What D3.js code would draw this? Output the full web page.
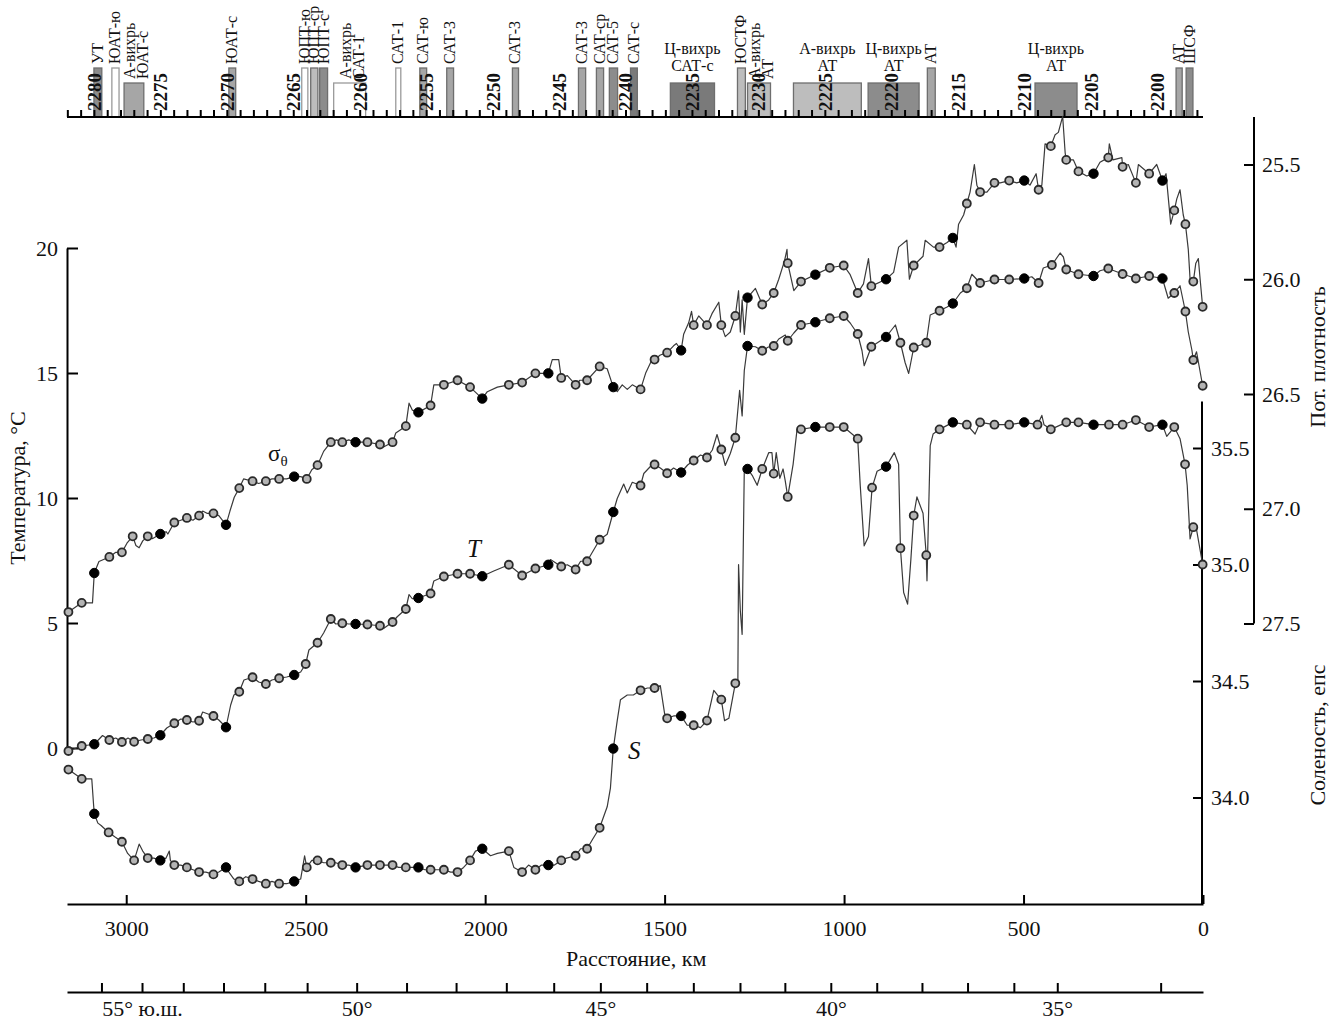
<!DOCTYPE html>
<html>
<head>
<meta charset="utf-8">
<script src="https://cdn.jsdelivr.net/npm/d3@7"></script>
<style>
  body { margin: 0; background: #fff; }
</style>
</head>
<body>
<svg id="section"></svg>
<script>
// values
// distance along the track is in km (3165 at the left edge, 0 at the right)
// mark: 0 = plain line point, 1 = open station circle, 2 = black station dot

const sigmaKm = [3161,3124,3094,3089,3076,3047,3029,3012,2998,2982,2973,2964,2954,2940,2926,2905,2889,2884,2866,2848,
  2831,2814,2797,2787,2775,2757,2742,2722,2711,2699,2685,2673,2648,2631,2611,2594,2574,2553,2532,2514,
  2497,2483,2467,2450,2430,2414,2398,2380,2361,2328,2293,2282,2258,2249,2221,2212,2203,2186,2152,2143,
  2115,2077,2042,2008,1994,1966,1934,1897,1860,1824,1813,1795,1788,1771,1748,1736,1716,1681,1660,1643,
  1632,1618,1604,1590,1567,1553,1535,1528,1512,1493,1475,1467,1454,1447,1433,1425,1419,1405,1382,1368,
  1349,1342,1331,1317,1303,1294,1289,1284,1278,1269,1247,1228,1210,1196,1182,1166,1159,1157,1140,1120,
  1080,1040,1001,983,962,946,932,924,883,862,848,825,818,806,780,774,751,734,713,697,
  688,681,667,658,649,637,630,621,602,581,565,540,519,498,482,465,458,449,440,424,
  412,403,391,384,381,361,347,324,305,287,264,261,251,226,224,208,187,180,150,129,
  113,103,94,90,80,73,64,55,49,41,36,27,20,13,8,1];
const sigmaVal = [27.45,27.41,27.41,27.28,27.23,27.21,27.19,27.19,27.15,27.12,27.16,27.17,27.14,27.12,27.13,27.11,27.10,27.11,27.06,27.05,
  27.04,27.05,27.03,27.01,27.02,27.02,27.03,27.07,27.01,26.95,26.91,26.87,26.88,26.89,26.88,26.87,26.87,26.87,26.86,26.86,
  26.87,26.83,26.81,26.75,26.71,26.70,26.71,26.70,26.71,26.71,26.72,26.73,26.71,26.67,26.64,26.54,26.57,26.58,26.55,26.46,
  26.46,26.44,26.47,26.52,26.49,26.47,26.46,26.45,26.41,26.41,26.35,26.35,26.43,26.42,26.46,26.44,26.44,26.38,26.39,26.47,
  26.49,26.46,26.48,26.46,26.48,26.41,26.35,26.35,26.33,26.32,26.29,26.28,26.31,26.24,26.19,26.14,26.20,26.16,26.20,26.15,
  26.10,26.20,26.25,26.23,26.16,26.05,26.23,26.09,26.24,26.08,26.04,26.11,26.09,26.06,26.00,25.92,25.87,25.93,26.05,26.01,
  25.98,25.95,25.94,25.98,26.06,26.02,25.91,26.03,26.00,25.97,25.86,25.83,26.00,25.94,25.90,25.83,25.86,25.86,25.84,25.82,
  25.86,25.76,25.72,25.67,25.62,25.50,25.59,25.62,25.62,25.58,25.58,25.57,25.58,25.57,25.59,25.54,25.61,25.59,25.41,25.42,
  25.37,25.36,25.29,25.45,25.48,25.48,25.53,25.55,25.54,25.49,25.47,25.41,25.48,25.47,25.51,25.50,25.58,25.50,25.54,25.50,
  25.57,25.54,25.69,25.76,25.70,25.65,25.61,25.72,25.76,25.87,26.00,26.01,25.93,25.91,26.00,26.12];
const sigmaMark = [1,1,0,2,0,1,0,1,0,1, 0,0,0,1,0,2,0,0,1,0, 1,0,1,0,0,1,0,2,0,0, 1,0,1,0,1,0,1,0,2,0,
  1,0,1,0,1,0,1,0,2,1, 1,0,1,0,1,0,0,2,1,0, 1,1,1,2,0,0,1,1,1,2, 0,0,1,0,1,0,1,1,0,2,
  0,0,0,0,1,0,0,1,0,1, 0,0,2,0,0,0,1,0,1,0, 0,1,0,0,1,0,0,0,0,2, 0,1,0,1,0,0,0,1,0,1,
  2,1,1,0,1,0,0,1,2,0, 0,0,0,1,0,0,0,1,0,2, 0,0,0,1,0,0,0,1,0,1, 0,1,0,2,0,0,1,0,0,1,
  0,0,0,0,1,0,1,0,2,0, 1,0,0,0,1,0,1,0,1,0, 2,0,0,0,1,0,0,0,1,0, 0,1,0,0,0,1];

const tempKm = [3161,3124,3089,3066,3047,3029,3012,2995,2978,2959,2940,2923,2905,2887,2866,2848,2831,2814,2797,2787,
  2757,2742,2722,2709,2700,2685,2672,2648,2631,2611,2594,2574,2553,2532,2514,2500,2491,2467,2450,2430,
  2416,2398,2380,2361,2328,2293,2282,2258,2245,2221,2212,2203,2186,2152,2143,2115,2077,2042,2008,1976,
  1934,1897,1860,1824,1818,1788,1771,1748,1734,1716,1681,1660,1643,1632,1614,1604,1590,1567,1558,1539,
  1528,1512,1493,1475,1454,1436,1419,1400,1382,1367,1354,1342,1331,1317,1303,1291,1284,1278,1269,1247,
  1228,1211,1196,1182,1164,1157,1140,1120,1080,1040,1001,983,962,950,944,924,883,857,843,830,
  820,806,771,760,734,713,697,676,658,644,621,581,540,498,477,458,445,421,398,389,
  381,347,305,287,264,224,187,150,113,97,80,64,49,41,31,27,18,1];
const tempVal = [-0.12,0.08,0.15,0.50,0.32,0.40,0.24,0.40,0.25,0.32,0.36,0.40,0.51,0.80,0.99,1.16,1.12,1.04,1.09,1.44,
  1.28,1.12,0.83,1.72,2.12,2.25,2.72,2.83,2.64,2.56,2.72,2.79,2.84,2.92,3.04,3.36,3.92,4.21,4.60,5.16,
  4.96,4.99,4.96,4.96,4.94,4.89,4.79,5.04,5.25,5.56,6.14,5.97,6.00,6.18,6.68,6.86,6.97,6.97,6.87,7.08,
  7.33,6.90,7.18,7.33,7.54,7.26,7.33,7.14,7.47,7.47,8.33,8.55,9.44,9.98,10.56,10.20,10.63,10.50,10.98,11.27,
  11.34,11.20,10.99,11.20,11.02,11.32,11.50,11.72,11.62,11.92,12.54,11.94,11.30,11.78,12.41,14.31,13.28,15.10,16.08,16.05,
  15.89,16.04,16.08,16.36,16.52,16.29,16.60,16.92,17.03,17.19,17.28,17.00,16.56,15.89,15.29,16.05,16.44,16.92,16.21,15.42,
  14.98,16.02,16.21,17.32,17.49,17.64,17.78,18.20,18.39,18.95,18.60,18.74,18.74,18.78,18.85,18.60,19.20,19.32,19.80,19.64,
  19.14,18.95,18.88,19.09,19.18,18.96,18.78,18.88,18.78,17.99,18.20,18.49,17.46,16.64,15.92,15.52,15.85,14.49];
const tempMark = [1,1,2,0,1,0,1,0,1,0, 1,0,2,0,1,0,1,0,1,0, 1,0,2,0,0,1,0,1,0,1, 0,1,0,2,0,1,0,1,0,1,
  0,1,0,2,1,1,0,1,0,1, 0,0,2,1,0,1,1,1,2,0, 1,1,1,2,0,1,0,1,0,1, 1,0,2,0,0,0,0,1,0,0,
  1,0,1,0,2,0,1,0,1,0, 0,1,0,0,1,0,0,0,2,0, 1,0,1,0,0,1,0,1,2,1, 1,0,1,0,0,1,2,0,1,0,
  0,1,1,0,1,0,2,0,1,0, 1,1,1,2,0,1,0,1,0,0, 1,1,2,0,1,1,1,1,2,0, 1,0,1,0,0,1,0,1];

const salKm = [3161,3124,3096,3091,3089,3079,3070,3049,3031,3012,2996,2978,2970,2964,2954,2940,2923,2905,2889,2880,
  2877,2866,2848,2831,2814,2797,2778,2757,2742,2722,2714,2700,2685,2667,2648,2631,2611,2594,2574,2553,
  2532,2514,2503,2497,2483,2467,2450,2430,2416,2398,2380,2361,2328,2293,2277,2258,2241,2221,2205,2186,
  2168,2152,2135,2115,2096,2077,2060,2042,2027,2008,1985,1966,1934,1920,1897,1879,1860,1843,1824,1807,
  1788,1773,1748,1734,1716,1701,1681,1660,1651,1643,1632,1623,1604,1587,1567,1548,1528,1512,1500,1493,
  1475,1454,1437,1419,1400,1382,1363,1353,1342,1333,1321,1303,1296,1294,1289,1284,1278,1269,1255,1242,
  1228,1210,1201,1196,1189,1179,1170,1164,1157,1142,1131,1120,1080,1040,1001,962,955,944,932,922,
  908,883,860,848,843,834,823,814,806,797,780,771,769,760,752,734,697,658,635,621,
  581,540,498,461,449,443,424,381,347,305,262,224,187,150,113,101,80,64,50,44,
  36,27,18,1];
const salVal = [34.12,34.08,34.08,33.97,33.93,33.89,33.88,33.85,33.83,33.81,33.76,33.73,33.77,33.80,33.77,33.74,33.74,33.73,33.74,33.77,
  33.73,33.71,33.71,33.70,33.69,33.68,33.68,33.67,33.68,33.70,33.68,33.65,33.64,33.66,33.65,33.64,33.63,33.64,33.63,33.63,
  33.64,33.65,33.75,33.70,33.73,33.73,33.72,33.72,33.72,33.71,33.71,33.70,33.71,33.71,33.71,33.71,33.70,33.70,33.70,33.70,
  33.69,33.69,33.69,33.69,33.68,33.68,33.70,33.73,33.77,33.78,33.75,33.76,33.77,33.70,33.68,33.71,33.69,33.71,33.71,33.71,
  33.73,33.74,33.75,33.78,33.78,33.82,33.87,33.96,34.04,34.21,34.33,34.42,34.44,34.44,34.46,34.47,34.47,34.48,34.36,34.34,
  34.35,34.35,34.31,34.31,34.30,34.33,34.46,34.44,34.42,34.33,34.34,34.49,34.48,35.00,34.80,34.70,35.41,35.41,35.38,35.34,
  35.41,35.48,35.48,35.39,35.48,35.37,35.41,35.36,35.29,35.43,35.58,35.58,35.59,35.59,35.59,35.54,35.34,35.08,35.12,35.33,
  35.40,35.42,35.48,35.43,35.07,34.88,34.83,35.02,35.21,35.29,35.22,35.04,34.93,35.51,35.56,35.58,35.61,35.60,35.56,35.61,
  35.60,35.60,35.61,35.60,35.64,35.60,35.58,35.61,35.61,35.60,35.60,35.60,35.62,35.59,35.60,35.55,35.59,35.54,35.43,35.34,
  35.11,35.16,35.15,35.00];
const salMark = [1,1,0,0,2,0,0,1,0,1, 0,1,0,0,0,1,0,2,0,0, 0,1,0,1,0,1,0,1,0,2, 0,0,1,0,1,0,1,0,1,0,
  2,0,0,1,0,1,0,1,0,1, 0,2,1,1,0,1,0,1,0,2, 0,1,0,1,0,1,0,1,0,2, 0,0,1,0,1,0,1,0,2,0,
  1,0,1,0,1,0,1,0,0,2, 0,0,0,0,1,0,1,0,0,1, 0,2,0,1,0,1,0,0,1,0, 0,1,0,0,0,0,0,2,0,0,
  1,0,0,1,0,0,0,0,1,0, 0,1,2,1,1,1,0,0,0,1, 0,2,0,0,1,0,0,0,1,0, 0,1,0,0,0,1,2,1,0,1,
  1,1,2,1,0,0,1,1,1,2, 1,1,1,1,2,0,1,0,1,0, 0,1,0,1];

// axis ticks
const distTicks = [3000, 2500, 2000, 1500, 1000, 500, 0];
const tempTicks = [0, 5, 10, 15, 20];
const sigmaTicks = [25.5, 26.0, 26.5, 27.0, 27.5];
const salTicks = [34.0, 34.5, 35.0, 35.5];
const latDeg = [56, 55, 54, 53, 52, 51, 50, 49, 48, 47, 46, 45, 44, 43, 42, 41, 40, 39, 38, 37, 36, 35, 33];
const latKm = [3069, 2956, 2841, 2729, 2614, 2496, 2358, 2219, 2081, 1941, 1809, 1679, 1550, 1420, 1290, 1165, 1037, 909, 783, 656, 527, 406, 118];
const stationLabels = [2280, 2275, 2270, 2265, 2260, 2255, 2250, 2245, 2240, 2235, 2230, 2225, 2220, 2215, 2210, 2205, 2200];

// fronts and eddies crossed by the section (top strip)
const barStartKm = [3090, 3040, 3006, 2714, 2511, 2486, 2461, 2422, 2249, 2182, 2107, 1924, 1740, 1690, 1654, 1595, 1484, 1297, 1269, 1141, 933, 768, 468, 75, 47];
const barEndKm = [3068, 3020, 2951, 2695, 2494, 2466, 2439, 2333, 2235, 2163, 2088, 1907, 1720, 1670, 1631, 1576, 1361, 1275, 1205, 952, 791, 746, 351, 58, 28];
const barName = ["УТ", "ЮАТ-ю", "А-вихрь|ЮАТ-с", "ЮАТ-с", "ЮПТ-ю", "ЮПТ-ср", "ЮПТ-с", "А-вихрь|САТ-1", "САТ-1", "САТ-ю",
  "САТ-3", "САТ-3", "САТ-3", "САТ-ср", "САТ-5", "САТ-с", "Ц-вихрь|САТ-с", "ЮСТФ", "А-вихрь|АТ", "А-вихрь|АТ",
  "Ц-вихрь|АТ", "АТ", "Ц-вихрь|АТ", "АТ", "ШСФ"];
const barKind = ["front", "front", "eddy", "front", "front", "front", "front", "eddy", "front", "front",
  "front", "front", "front", "front", "front", "front", "eddy", "front", "eddy", "eddy",
  "eddy", "front", "eddy", "front", "front"];
const barTone = [3, 0, 2, 2, 0, 1, 3, 0, 0, 2, 2, 2, 2, 2, 3, 4, 4, 1, 1, 1, 3, 2, 3, 2, 3];

// ---------------------------------------------------------------

var serif = "'Liberation Serif', 'Times New Roman', serif";
var w = 1335;
var h = 1027;

var svg = d3.select("#section")
    .attr("width", w)
    .attr("height", h)
    .style("font-family", serif);

var xScale = d3.scaleLinear().domain([3165, 0]).range([67, 1203]);
var tScale = d3.scaleLinear().domain([0, 20]).range([748, 248]);
var sigScale = d3.scaleLinear().domain([25.5, 27.5]).range([164.5, 623.5]);
var salScale = d3.scaleLinear().domain([34.0, 35.5]).range([797.5, 448]);
var stScale = d3.scaleLinear().domain([2280, 2200]).range([xScale(3090), xScale(128)]);

var topAxisY = 117, distAxisY = 904, latAxisY = 992;
var sigAxisX = 1254, salAxisX = 1202;
var tallTop = 68, shortTop = 83;
var tones = ["#ffffff", "#bdbdbd", "#a6a6a6", "#8c8c8c", "#7a7a7a"];

function styleAxis(g, size) {
    g.attr("font-family", serif).attr("font-size", size);
    g.selectAll(".domain").attr("stroke", "#000").attr("stroke-width", 2);
    g.selectAll(".tick line").attr("stroke", "#000").attr("stroke-width", 2);
    g.selectAll(".tick text").attr("fill", "#111");
}

// ---- station strip at the top ----
var strip = svg.append("g");

strip.selectAll("rect")
    .data(barName)
    .join("rect")
    .attr("x", (d, i) => xScale(barStartKm[i]))
    .attr("width", (d, i) => xScale(barEndKm[i]) - xScale(barStartKm[i]))
    .attr("y", (d, i) => barKind[i] === "front" ? tallTop : shortTop)
    .attr("height", (d, i) => topAxisY - (barKind[i] === "front" ? tallTop : shortTop))
    .attr("fill", (d, i) => tones[barTone[i]])
    .attr("stroke", (d, i) => barTone[i] === 0 ? "#9a9a9a" : "#6e6e6e")
    .attr("stroke-width", 1.3);

var barLabels = strip.append("g").attr("font-size", 16).attr("fill", "#111");

barName.forEach(function (name, i) {
    var lines = name.split("|");
    var x0 = xScale(barStartKm[i]);
    var x1 = xScale(barEndKm[i]);
    var cx = (x0 + x1) / 2;
    var top = barKind[i] === "front" ? tallTop : shortTop;
    if (x1 - x0 > 40) {
        // wide eddy boxes get a flat two-line caption
        lines.forEach(function (ln, j) {
            barLabels.append("text")
                .attr("x", cx)
                .attr("y", top - 29 + j * 17)
                .attr("text-anchor", "middle")
                .text(ln);
        });
    } else {
        lines.forEach(function (ln, j) {
            var col = lines.length === 1 ? cx : cx - 4 + j * 13;
            barLabels.append("text")
                .attr("transform", `translate(${col + 5},${top - 4}) rotate(-90)`)
                .text(ln);
        });
    }
});

// station ticks + numbers
svg.append("g")
    .attr("transform", `translate(0,${topAxisY})`)
    .call(d3.axisTop(stScale).tickValues(d3.range(2282, 2196, -1)).tickSizeInner(7).tickSizeOuter(0).tickFormat(""))
    .call(g => g.select(".domain").remove())
    .call(g => styleAxis(g, 14));

svg.append("line")
    .attr("x1", xScale.range()[0]).attr("x2", xScale.range()[1])
    .attr("y1", topAxisY).attr("y2", topAxisY)
    .attr("stroke", "#000").attr("stroke-width", 2);

svg.append("g")
    .selectAll("text")
    .data(stationLabels)
    .join("text")
    .attr("transform", d => `translate(${stScale(d) + 7},${topAxisY - 6}) rotate(-90)`)
    .attr("font-size", 19)
    .attr("font-weight", "bold")
    .attr("fill", "#111")
    .text(d => d);

// ---- axes ----
svg.append("g")
    .attr("transform", `translate(${xScale.range()[0]},0)`)
    .call(d3.axisLeft(tScale).tickValues(tempTicks).tickSizeInner(-11).tickSizeOuter(0).tickPadding(9))
    .call(g => styleAxis(g, 22));

svg.append("g")
    .attr("transform", `translate(0,${distAxisY})`)
    .call(d3.axisBottom(xScale).tickValues(distTicks).tickFormat(d3.format("d")).tickSizeInner(-9).tickSizeOuter(0).tickPadding(16))
    .call(g => styleAxis(g, 22));

svg.append("g")
    .attr("transform", `translate(0,${latAxisY})`)
    .call(d3.axisBottom(xScale).tickValues(latKm).tickSizeInner(-9).tickSizeOuter(0).tickPadding(8)
        .tickFormat((d, i) => {
            var deg = latDeg[i];
            if (deg === 55) return "55° ю.ш.";
            return deg % 5 === 0 ? deg + "°" : "";
        }))
    .call(g => styleAxis(g, 22));

svg.append("g")
    .attr("transform", `translate(${sigAxisX},0)`)
    .call(d3.axisRight(sigScale).tickValues(sigmaTicks).tickFormat(d3.format(".1f")).tickSizeInner(-10).tickSizeOuter(0).tickPadding(8))
    .call(g => g.select(".domain").remove())
    .call(g => styleAxis(g, 22));

svg.append("line")
    .attr("x1", sigAxisX).attr("x2", sigAxisX)
    .attr("y1", topAxisY).attr("y2", sigScale(27.5))
    .attr("stroke", "#000").attr("stroke-width", 2);

svg.append("g")
    .attr("transform", `translate(${salAxisX},0)`)
    .call(d3.axisRight(salScale).tickValues(salTicks).tickFormat(d3.format(".1f")).tickSizeInner(-9).tickSizeOuter(0).tickPadding(9))
    .call(g => g.select(".domain").remove())
    .call(g => styleAxis(g, 22));

svg.append("line")
    .attr("x1", salAxisX).attr("x2", salAxisX)
    .attr("y1", salScale(35.7)).attr("y2", distAxisY)
    .attr("stroke", "#000").attr("stroke-width", 2);

// axis titles
svg.append("text")
    .attr("transform", "translate(25,488) rotate(-90)")
    .attr("text-anchor", "middle").attr("font-size", 22).attr("fill", "#111")
    .text("Температура, °С");

svg.append("text")
    .attr("transform", "translate(1325,357) rotate(-90)")
    .attr("text-anchor", "middle").attr("font-size", 22).attr("fill", "#111")
    .text("Пот. плотность");

svg.append("text")
    .attr("transform", "translate(1325,735) rotate(-90)")
    .attr("text-anchor", "middle").attr("font-size", 22).attr("fill", "#111")
    .text("Соленость, епс");

svg.append("text")
    .attr("x", (xScale(1829) + xScale(1329)) / 2).attr("y", 966)
    .attr("text-anchor", "middle").attr("font-size", 22).attr("fill", "#111")
    .text("Расстояние, км");

// ---- the three curves ----
var series = [
    { km: sigmaKm, val: sigmaVal, mark: sigmaMark, y: sigScale },
    { km: tempKm, val: tempVal, mark: tempMark, y: tScale },
    { km: salKm, val: salVal, mark: salMark, y: salScale }
];

var plot = svg.append("g");

series.forEach(function (s) {
    var pts = s.km.map((k, i) => ({ km: k, v: s.val[i], m: s.mark[i] }));
    var line = d3.line()
        .x(d => xScale(d.km))
        .y(d => s.y(d.v));

    plot.append("path")
        .datum(pts)
        .attr("d", line)
        .attr("fill", "none")
        .attr("stroke", "#3a3a3a")
        .attr("stroke-width", 1.2)
        .attr("stroke-linejoin", "round");

    plot.append("g")
        .selectAll("circle")
        .data(pts.filter(d => d.m > 0))
        .join("circle")
        .attr("cx", d => xScale(d.km))
        .attr("cy", d => s.y(d.v))
        .attr("r", d => d.m === 2 ? 4.7 : 4)
        .attr("fill", d => d.m === 2 ? "#000" : "#b4b4b4")
        .attr("stroke", d => d.m === 2 ? "#000" : "#2a2a2a")
        .attr("stroke-width", d => d.m === 2 ? 1 : 1.8);
});

// curve captions
var sig = svg.append("text")
    .attr("x", 268).attr("y", 461)
    .attr("font-size", 23).attr("fill", "#111")
    .text("σ");
sig.append("tspan").attr("font-size", 15).attr("dy", 5).text("θ");

svg.append("text")
    .attr("x", 467).attr("y", 557)
    .attr("font-size", 25).attr("font-style", "italic").attr("fill", "#111")
    .text("T");

svg.append("text")
    .attr("x", 628).attr("y", 759)
    .attr("font-size", 25).attr("font-style", "italic").attr("fill", "#111")
    .text("S");
</script>
</body>
</html>
